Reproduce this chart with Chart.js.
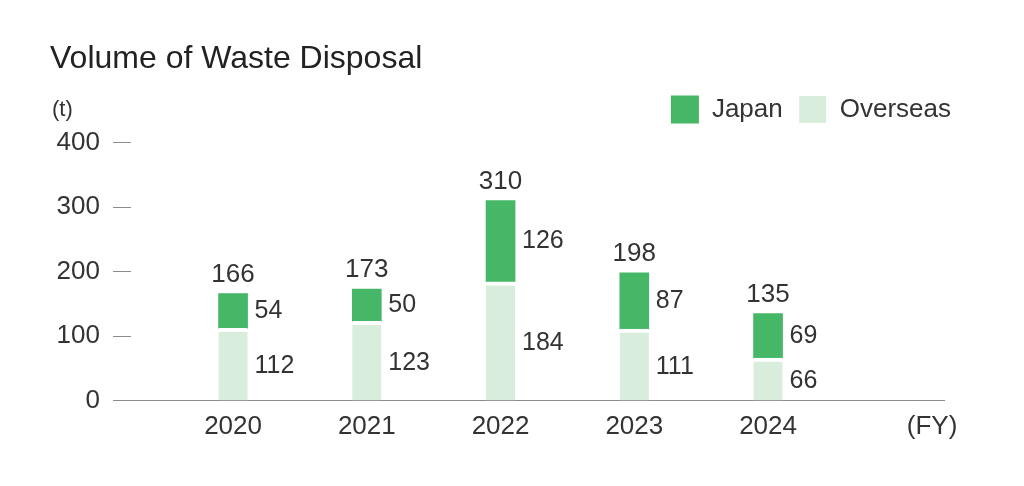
<!DOCTYPE html>
<html lang="en">
<head>
  <meta charset="UTF-8">
  <title>Volume of Waste Disposal</title>
  <script src="https://cdn.jsdelivr.net/npm/chart.js"></script>
  <style>
    body {
      margin: 0;
      background: #fff;
    }
    #wrap {
      width: 1024px;
      height: 486px;
    }
  </style>
</head>
<body>
  <div id="wrap"><canvas id="wasteChart"></canvas></div>

  <script>
    const years = [2020, 2021, 2022, 2023, 2024];
    const japan = [54, 50, 126, 87, 69];
    const overseas = [112, 123, 184, 111, 66];
    const yTicks = [0, 100, 200, 300, 400];
    const unitLabel = "(t)";
    const fyLabel = "(FY)";

    const FONT = "'Liberation Sans', Arial, sans-serif";
    const TEXT = "#333";
    const GREEN = "#45b766";
    const PALE = "#d9eddc";
    const fyPos = 2025.226; // where "(FY)" sits on the year axis

    // numbers next to / above the bars, and the "(t)" unit
    const valueLabels = {
      id: "valueLabels",
      afterDatasetsDraw(chart) {
        const ctx = chart.ctx;
        ctx.save();
        ctx.fillStyle = TEXT;
        ctx.font = "25px " + FONT;
        ctx.textAlign = "left";
        ctx.textBaseline = "middle";
        chart.data.datasets.forEach((ds, di) => {
          const gap = di === 0 ? 4 : 0;
          chart.getDatasetMeta(di).data.forEach((bar, i) => {
            ctx.fillText(ds.data[i], bar.x + bar.width / 2 + 7, (bar.y + gap + bar.base) / 2);
          });
        });

        ctx.font = "26px " + FONT;
        ctx.textAlign = "center";
        ctx.textBaseline = "alphabetic";
        chart.getDatasetMeta(1).data.forEach((bar, i) => {
          ctx.fillText(japan[i] + overseas[i], bar.x, bar.y - 12);
        });

        const y = chart.scales.y;
        ctx.font = "22px " + FONT;
        ctx.textAlign = "left";
        ctx.textBaseline = "middle";
        ctx.fillText(unitLabel, y.left + 2, chart.chartArea.top - 32);
        ctx.restore();
      }
    };

    // move the legend up and to the right edge like the original
    const legendShift = {
      id: "legendShift",
      afterLayout(chart) {
        chart.legend.left += 22;
        chart.legend.right += 22;
        chart.legend.top -= 9;
        chart.legend.bottom -= 9;
      }
    };

    const ctx = document.getElementById("wasteChart").getContext("2d");
    Chart.defaults.font.family = FONT;
    Chart.defaults.color = TEXT;

    new Chart(ctx, {
      type: "bar",
      data: {
        labels: years,
        datasets: [{
          label: "Overseas",
          data: overseas,
          backgroundColor: PALE,
          borderColor: "#fff",
          borderWidth: { top: 4, right: 0, bottom: 0, left: 0 },
          barThickness: 29
        }, {
          label: "Japan",
          data: japan,
          backgroundColor: GREEN,
          borderWidth: 0,
          barThickness: 29
        }]
      },
      options: {
        responsive: true,
        maintainAspectRatio: false,
        animation: false,
        layout: {
          padding: { top: 0, left: 50, right: 79, bottom: 42 }
        },
        plugins: {
          title: {
            display: true,
            text: "Volume of Waste Disposal",
            align: "start",
            color: "#222",
            font: { size: 32, weight: "normal" },
            padding: { top: 40, bottom: 10 }
          },
          legend: {
            align: "end",
            reverse: true,
            labels: {
              boxWidth: 28,
              boxHeight: 28,
              padding: 16,
              color: TEXT,
              font: { size: 26 }
            }
          },
          tooltip: { enabled: false }
        },
        scales: {
          x: {
            type: "linear",
            stacked: true,
            offset: false,
            min: 2019.237,
            max: 2025.323,
            grid: { display: false },
            border: { display: false },
            afterBuildTicks: s => {
              s.ticks = years.concat([fyPos]).map(v => ({ value: v }));
            },
            ticks: {
              padding: 2,
              color: TEXT,
              font: { size: 26 },
              maxRotation: 0,
              autoSkip: false,
              callback: v => (v === fyPos ? fyLabel : String(v))
            }
          },
          y: {
            stacked: true,
            min: 0,
            max: 400,
            afterFit: s => { s.width = 81; },
            afterBuildTicks: s => {
              s.ticks = yTicks.map(v => ({ value: v }));
            },
            border: { display: false },
            grid: {
              color: c => (c.tick && c.tick.value === 0 ? "#8c8c8c" : "rgba(0,0,0,0)"),
              tickColor: "#8c8c8c",
              tickLength: 18,
              lineWidth: 1
            },
            ticks: {
              padding: 13,
              color: TEXT,
              font: { size: 26 }
            }
          }
        }
      },
      plugins: [valueLabels, legendShift]
    });
  </script>
</body>
</html>
